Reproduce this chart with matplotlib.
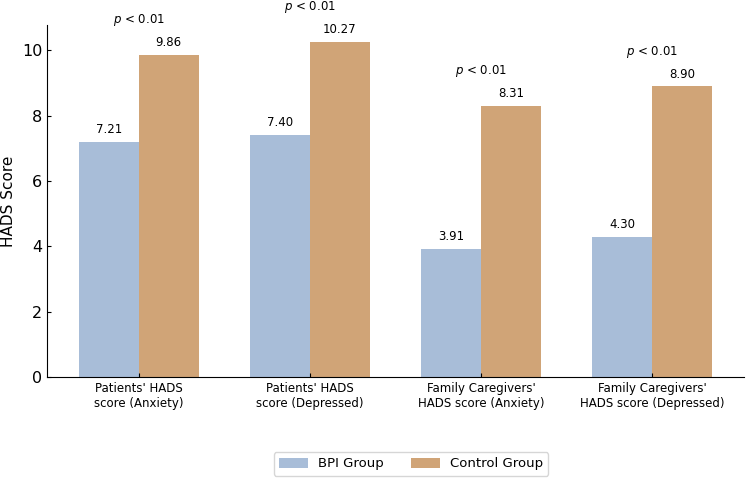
import matplotlib
matplotlib.use("Agg")
import matplotlib.pyplot as plt
import numpy as np

categories = ["Patients' HADS\nscore (Anxiety)", "Patients' HADS\nscore (Depressed)",
              "Family Caregivers'\nHADS score (Anxiety)", "Family Caregivers'\nHADS score (Depressed)"]
bpi_values = [7.21, 7.40, 3.91, 4.30]
control_values = [9.86, 10.27, 8.31, 8.90]
p_labels = ["p < 0.01", "p < 0.01", "p < 0.01", "p < 0.01"]
series_names = ["BPI Group", "Control Group"]

blue = "#a8bdd8"
orange = "#d0a477"

fig = plt.figure(figsize=(7.49, 4.8), dpi=100)
ax = fig.add_axes([47/749, 1-377/480, (744-47)/749, (377-25)/480])

x = np.arange(len(categories))
w = 0.35
b1 = ax.bar(x - w/2, bpi_values, w, color=blue, label=series_names[0])
b2 = ax.bar(x + w/2, control_values, w, color=orange, label=series_names[1])

for rect, v in zip(list(b1) + list(b2), bpi_values + control_values):
    ax.text(rect.get_x() + rect.get_width()/2, v + 0.18, f"{v:.2f}",
            ha="center", va="bottom", fontsize=8.5)

for xi, a, b, p in zip(x, bpi_values, control_values, p_labels):
    ax.text(xi, max(a, b) + 0.82, r"$p$ < 0.01", ha="center", va="bottom", fontsize=8.5)

ax.set_xticks(x)
ax.set_xticklabels(categories, fontsize=8.5)
ax.set_ylabel("HADS Score", fontsize=11)
ax.tick_params(axis="y", labelsize=11.5, direction="in", length=3)
ax.tick_params(axis="x", direction="in", length=3)
ax.spines["top"].set_visible(False)
ax.spines["right"].set_visible(False)
ax.set_yticks([0, 2, 4, 6, 8, 10])
ax.set_ylim(0, 10.78)

fig.legend(handles=[b1, b2], labels=series_names, loc="center", ncol=2,
           bbox_to_anchor=(411/749, 1-464/480), fontsize=9.5, frameon=True,
           columnspacing=2.0, handlelength=2.2)

fig.savefig("out.png", dpi=100)
